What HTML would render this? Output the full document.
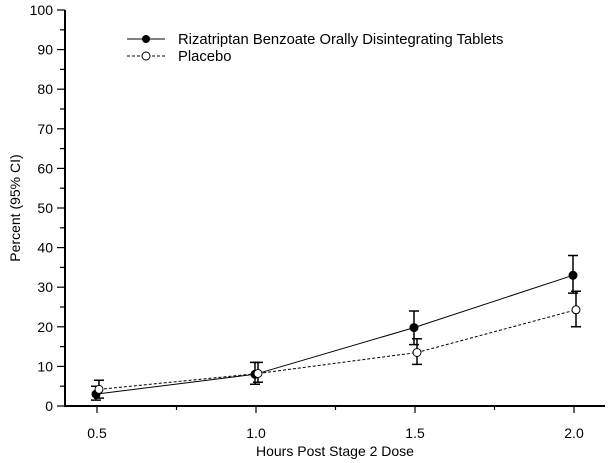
<html><body style="margin:0;background:#fff">
<svg width="614" height="463" xmlns="http://www.w3.org/2000/svg" font-family="Liberation Sans, sans-serif" font-size="14">
<g stroke="#000" stroke-width="2" fill="none">
<line x1="65" y1="10" x2="65" y2="406"/>
<line x1="64" y1="406" x2="605" y2="406"/>
</g>
<g stroke="#000" stroke-width="1.2">
<line x1="57" y1="406" x2="65" y2="406"/><line x1="60" y1="386.2" x2="65" y2="386.2"/>
<line x1="57" y1="366.4" x2="65" y2="366.4"/><line x1="60" y1="346.6" x2="65" y2="346.6"/>
<line x1="57" y1="326.8" x2="65" y2="326.8"/><line x1="60" y1="307" x2="65" y2="307"/>
<line x1="57" y1="287.2" x2="65" y2="287.2"/><line x1="60" y1="267.4" x2="65" y2="267.4"/>
<line x1="57" y1="247.6" x2="65" y2="247.6"/><line x1="60" y1="227.8" x2="65" y2="227.8"/>
<line x1="57" y1="208" x2="65" y2="208"/><line x1="60" y1="188.2" x2="65" y2="188.2"/>
<line x1="57" y1="168.4" x2="65" y2="168.4"/><line x1="60" y1="148.6" x2="65" y2="148.6"/>
<line x1="57" y1="128.8" x2="65" y2="128.8"/><line x1="60" y1="109" x2="65" y2="109"/>
<line x1="57" y1="89.2" x2="65" y2="89.2"/><line x1="60" y1="69.4" x2="65" y2="69.4"/>
<line x1="57" y1="49.6" x2="65" y2="49.6"/><line x1="60" y1="29.8" x2="65" y2="29.8"/>
<line x1="57" y1="10" x2="65" y2="10"/>
<line x1="97" y1="406" x2="97" y2="413"/><line x1="176.5" y1="406" x2="176.5" y2="410"/>
<line x1="256" y1="406" x2="256" y2="413"/><line x1="335.5" y1="406" x2="335.5" y2="410"/>
<line x1="415" y1="406" x2="415" y2="413"/><line x1="494.5" y1="406" x2="494.5" y2="410"/>
<line x1="574" y1="406" x2="574" y2="413"/>
</g>
<g text-anchor="end">
<text x="53" y="411">0</text><text x="53" y="371.4">10</text><text x="53" y="331.8">20</text>
<text x="53" y="292.2">30</text><text x="53" y="252.6">40</text><text x="53" y="213">50</text>
<text x="53" y="173.4">60</text><text x="53" y="133.8">70</text><text x="53" y="94.2">80</text>
<text x="53" y="54.6">90</text><text x="53" y="15">100</text>
</g>
<g text-anchor="middle">
<text x="97" y="438">0.5</text><text x="256" y="438">1.0</text><text x="415" y="438">1.5</text><text x="574" y="438">2.0</text>
<text x="335" y="456">Hours Post Stage 2 Dose</text>
<text transform="translate(20,208) rotate(-90)">Percent (95% CI)</text>
</g>
<polyline points="96,394.1 255,374.3 414,327.6 573,275.3" fill="none" stroke="#000" stroke-width="1"/>
<polyline points="99,389.4 258,373.5 417,352.5 576,309.8" fill="none" stroke="#000" stroke-width="1" stroke-dasharray="3,2"/>
<g stroke="#000" stroke-width="1.5">
<path d="M96 400.1V386.2M91 400.1H101M91 386.2H101"/>
<path d="M255 384.2V362.4M250 384.2H260M250 362.4H260"/>
<path d="M414 344.6V311M409 344.6H419M409 311H419"/>
<path d="M573 293.1V255.5M568 293.1H578M568 255.5H578"/>
<path d="M99 398.1V380.3M94 398.1H104M94 380.3H104"/>
<path d="M258 382.2V362.4M253 382.2H263M253 362.4H263"/>
<path d="M417 364.4V338.7M412 364.4H422M412 338.7H422"/>
<path d="M576 326.8V291.2M571 326.8H581M571 291.2H581"/>
</g>
<g stroke="#000" stroke-width="1">
<circle cx="96" cy="394.1" r="4" fill="#000"/><circle cx="255" cy="374.3" r="4" fill="#000"/>
<circle cx="414" cy="327.6" r="4" fill="#000"/><circle cx="573" cy="275.3" r="4" fill="#000"/>
<circle cx="99" cy="389.4" r="4" fill="#fff"/><circle cx="258" cy="373.5" r="4" fill="#fff"/>
<circle cx="417" cy="352.5" r="4" fill="#fff"/><circle cx="576" cy="309.8" r="4" fill="#fff"/>
</g>
<line x1="127" y1="39" x2="165" y2="39" stroke="#000"/><circle cx="146" cy="39" r="4" fill="#000"/>
<line x1="127" y1="56" x2="165" y2="56" stroke="#000" stroke-dasharray="3,2"/><circle cx="146" cy="56" r="4" fill="#fff" stroke="#000"/>
<text x="178" y="44" font-size="14.8">Rizatriptan Benzoate Orally Disintegrating Tablets</text>
<text x="178" y="61" font-size="14.8">Placebo</text>
</svg>
</body></html>
